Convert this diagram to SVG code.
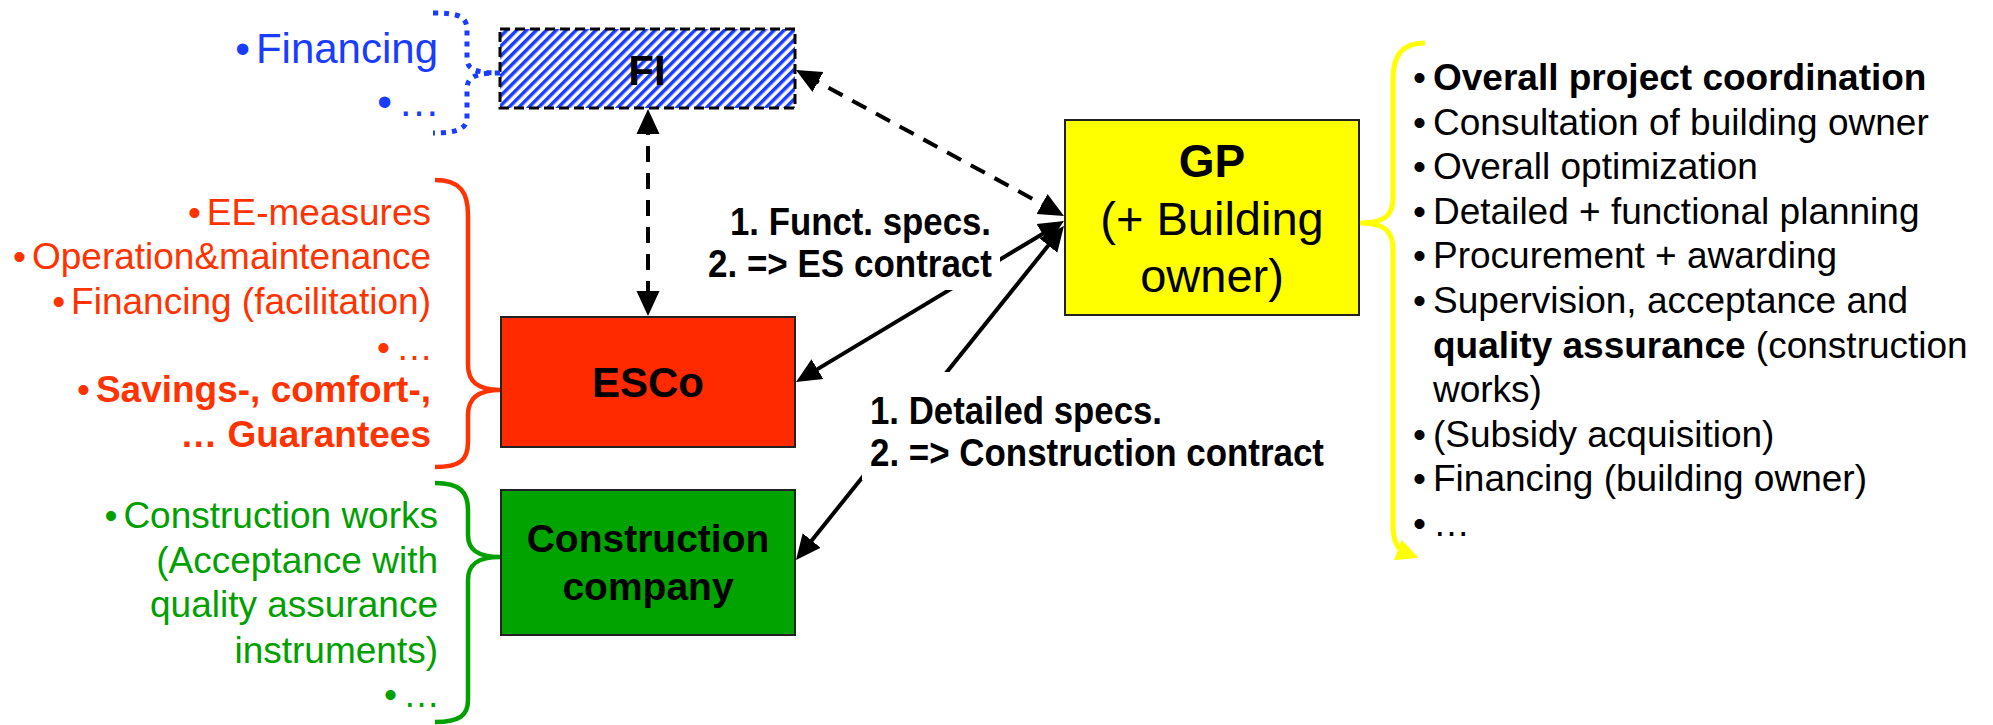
<svg xmlns="http://www.w3.org/2000/svg" width="1993" height="725" viewBox="0 0 1993 725">
<defs>
<style>
text { font-family: "Liberation Sans", Arial, sans-serif; }
.node { stroke: #222; stroke-width: 2; }
.nt { font-weight: bold; text-anchor: middle; fill: #000; }
.gpt { text-anchor: middle; fill: #000; font-size: 47px; }
.conn { fill: none; stroke: #000; stroke-width: 4; }
.dash { stroke-dasharray: 16 11; }
.lbl { font-weight: bold; fill: #000; }
.blue { fill: #1A3CFF; font-size: 42px; text-anchor: end; }
.red { fill: #FF3300; font-size: 37px; text-anchor: end; }
.green { fill: #00A000; font-size: 37px; text-anchor: end; }
.list { fill: #000; font-size: 37px; }
.b { font-weight: bold; }
.brace { fill: none; stroke-linecap: butt; }
</style>
<pattern id="hatch" patternUnits="userSpaceOnUse" width="7" height="7" patternTransform="rotate(45)">
<rect width="7" height="7" fill="#fff"/>
<rect width="3.5" height="7" fill="#1A3CFF"/>
</pattern>
<marker id="ah" viewBox="0 0 10 10" refX="6" refY="5" markerWidth="25" markerHeight="25" markerUnits="userSpaceOnUse" orient="auto-start-reverse">
<path d="M0,0.4 L10,5 L0,9.6 z" fill="#000"/>
</marker>
<marker id="ahy" viewBox="0 0 10 10" refX="4" refY="5" markerWidth="22" markerHeight="22" markerUnits="userSpaceOnUse" orient="auto">
<path d="M0,0 L10,5 L0,10 z" fill="#FFFF00"/>
</marker>
</defs>
<rect width="1993" height="725" fill="#fff"/>

<!-- connectors -->
<g id="connectors">
<path class="conn dash" d="M648,119 L648,306" marker-start="url(#ah)" marker-end="url(#ah)"/>
<path class="conn dash" d="M804.8,74.8 L1055.2,211.2" marker-start="url(#ah)" marker-end="url(#ah)"/>
<path class="conn" d="M1055.4,226.2 L804.6,376.9" marker-start="url(#ah)" marker-end="url(#ah)"/>
<path class="conn" d="M1057.7,233.8 L802.3,552.2" marker-start="url(#ah)" marker-end="url(#ah)"/>
</g>

<!-- connector labels -->
<g id="label-es">
<rect x="700" y="200" width="300" height="90" fill="#fff"/>
<text class="lbl" x="730" y="235" font-size="39" textLength="261" lengthAdjust="spacingAndGlyphs">1. Funct. specs.</text>
<text class="lbl" x="708" y="277" font-size="39" textLength="284" lengthAdjust="spacingAndGlyphs">2. =&gt; ES contract</text>
</g>
<g id="label-construction">
<rect x="862" y="372" width="470" height="108" fill="#fff"/>
<text class="lbl" x="870" y="424" font-size="39" textLength="292" lengthAdjust="spacingAndGlyphs">1. Detailed specs.</text>
<text class="lbl" x="870" y="466" font-size="39" textLength="454" lengthAdjust="spacingAndGlyphs">2. =&gt; Construction contract</text>
</g>

<!-- FI node -->
<g id="node-fi">
<rect x="500" y="29" width="295" height="79" fill="url(#hatch)" stroke="#000" stroke-width="3" stroke-dasharray="10 5"/>
<text class="nt" x="647" y="85" font-size="42">FI</text>
</g>

<!-- GP node -->
<g id="node-gp">
<rect class="node" x="1065" y="120" width="294" height="195" fill="#FFFF00"/>
<text class="nt" x="1212" y="177" font-size="46">GP</text>
<text class="gpt" x="1212" y="235">(+ Building</text>
<text class="gpt" x="1212" y="292">owner)</text>
</g>

<!-- ESCo node -->
<g id="node-esco">
<rect class="node" x="501" y="317" width="294" height="130" fill="#FF2A00"/>
<text class="nt" x="648" y="397" font-size="42">ESCo</text>
</g>

<!-- Construction company node -->
<g id="node-construction">
<rect class="node" x="501" y="490" width="294" height="145" fill="#00A300"/>
<text class="nt" x="648" y="552" font-size="39">Construction</text>
<text class="nt" x="648" y="600" font-size="39">company</text>
</g>

<!-- FI tasks -->
<g id="fi-tasks">
<path class="brace" stroke="#1A3CFF" stroke-width="5" stroke-dasharray="5 6" d="M433,13 C458,13 467,16 467,30 L467,58 C467,68 472,73 500,73 M500,73 C472,73 467,78 467,90 L467,118 C467,128 458,133 433,133"/>
<text class="blue" x="438" y="63">•<tspan dx="6">Financing</tspan></text>
<text class="blue" x="440" y="116">•<tspan dx="6">…</tspan></text>
</g>

<!-- ESCo tasks -->
<g id="esco-tasks">
<path class="brace" stroke="#FF3300" stroke-width="4.5" d="M435,180 C460,180 468,192 468,215 L468,365 C468,382 478,390 500,390 C478,390 468,398 468,415 L468,442 C468,460 460,467 435,467"/>
<text class="red" x="431" y="225">•<tspan dx="6">EE-measures</tspan></text>
<text class="red" x="431" y="269">•<tspan dx="6">Operation&amp;maintenance</tspan></text>
<text class="red" x="431" y="314">•<tspan dx="6">Financing (facilitation)</tspan></text>
<text class="red" x="433" y="360">•<tspan dx="6">…</tspan></text>
<text class="red" x="431" y="402">•<tspan dx="6" class="b">Savings-, comfort-,</tspan></text>
<text class="red b" x="431" y="447">… Guarantees</text>
</g>

<!-- Construction tasks -->
<g id="construction-tasks">
<path class="brace" stroke="#00A000" stroke-width="4.5" d="M435,483 C460,483 468,492 468,510 L468,535 C468,550 478,557 500,557 C478,557 468,564 468,580 L468,700 C468,715 460,722 435,722"/>
<text class="green" x="438" y="528">•<tspan dx="6">Construction works</tspan></text>
<text class="green" x="438" y="573">(Acceptance with</text>
<text class="green" x="438" y="617">quality assurance</text>
<text class="green" x="438" y="663">instruments)</text>
<text class="green" x="440" y="707">•<tspan dx="6">…</tspan></text>
</g>

<!-- GP tasks -->
<g id="gp-tasks">
<path class="brace" stroke="#FFFF00" stroke-width="5" d="M1425,43 C1402,43 1393,55 1393,80 L1393,198 C1393,215 1385,223 1360,223 C1385,223 1393,231 1393,250 L1393,525 C1393,542 1398,550 1406,553" marker-end="url(#ahy)"/>
<g class="list">
<text x="1413" y="90">•</text><text x="1433" y="90" class="b">Overall project coordination</text>
<text x="1413" y="135">•</text><text x="1433" y="135">Consultation of building owner</text>
<text x="1413" y="179">•</text><text x="1433" y="179">Overall optimization</text>
<text x="1413" y="224">•</text><text x="1433" y="224">Detailed + functional planning</text>
<text x="1413" y="268">•</text><text x="1433" y="268">Procurement + awarding</text>
<text x="1413" y="313">•</text><text x="1433" y="313">Supervision, acceptance and</text>
<text x="1433" y="358"><tspan class="b">quality assurance</tspan> (construction</text>
<text x="1433" y="402">works)</text>
<text x="1413" y="447">•</text><text x="1433" y="447">(Subsidy acquisition)</text>
<text x="1413" y="491">•</text><text x="1433" y="491">Financing (building owner)</text>
<text x="1413" y="536">•</text><text x="1433" y="536">…</text>
</g>
</g>
</svg>
